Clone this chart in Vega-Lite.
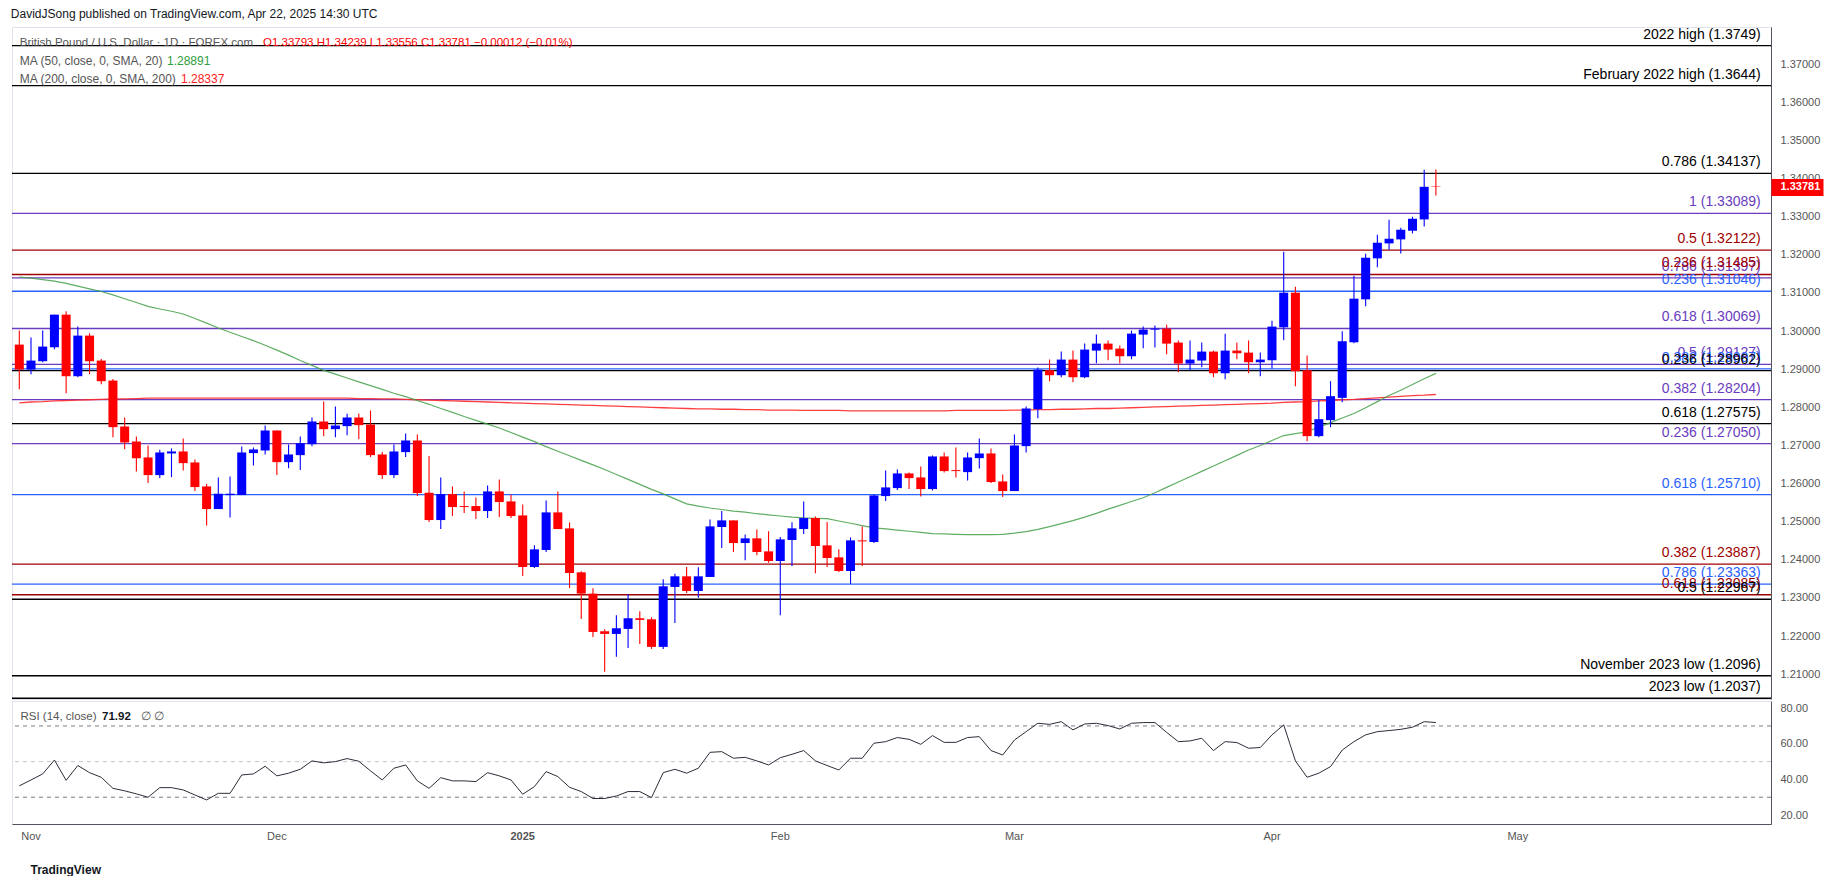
{
"$schema":"https://vega.github.io/schema/vega-lite/v6.json",
"background":"#ffffff",
"padding":{"left":10,"top":7,"right":0,"bottom":0},
"title":{"text":"DavidJSong published on TradingView.com, Apr 22, 2025 14:30 UTC","anchor":"start","font":"Liberation Sans","fontSize":12,"fontWeight":"normal","color":"#131722","offset":6},
"config":{"view":{"stroke":"#e0e3eb"},"font":"Liberation Sans","axis":{"labelOverlap":false}},
"resolve":{"scale":{"color":"independent"}},
"spacing":0,
"datasets":{
"bars":[
{"d":"2024-10-31","o":1.29646,"h":1.30013,"l":1.28476,"c":1.28991,"m50":1.3142,"m200":1.2812,"rsi":36.4},
{"d":"2024-11-01","o":1.28991,"h":1.2983,"l":1.28869,"c":1.29227,"m50":1.3139,"m200":1.2814,"rsi":39.7},
{"d":"2024-11-04","o":1.2921,"h":1.30013,"l":1.2918,"c":1.29594,"m50":1.3135,"m200":1.2815,"rsi":43.1},
{"d":"2024-11-05","o":1.29576,"h":1.30432,"l":1.29524,"c":1.30432,"m50":1.3131,"m200":1.2817,"rsi":50.9},
{"d":"2024-11-06","o":1.30432,"h":1.3052,"l":1.28371,"c":1.28817,"m50":1.3125,"m200":1.2818,"rsi":39.5},
{"d":"2024-11-07","o":1.28817,"h":1.30118,"l":1.2879,"c":1.29882,"m50":1.3118,"m200":1.2819,"rsi":47.8},
{"d":"2024-11-08","o":1.29882,"h":1.29943,"l":1.28869,"c":1.2921,"m50":1.3111,"m200":1.282,"rsi":43.8},
{"d":"2024-11-11","o":1.29227,"h":1.29271,"l":1.28607,"c":1.28686,"m50":1.3104,"m200":1.2821,"rsi":41.2},
{"d":"2024-11-12","o":1.28703,"h":1.28747,"l":1.27219,"c":1.27481,"m50":1.3095,"m200":1.2822,"rsi":35.0},
{"d":"2024-11-13","o":1.27498,"h":1.27734,"l":1.26904,"c":1.27079,"m50":1.3085,"m200":1.2822,"rsi":33.6},
{"d":"2024-11-14","o":1.27105,"h":1.27236,"l":1.26319,"c":1.26668,"m50":1.3075,"m200":1.2823,"rsi":31.9},
{"d":"2024-11-15","o":1.26686,"h":1.27,"l":1.26013,"c":1.26223,"m50":1.3065,"m200":1.2824,"rsi":30.0},
{"d":"2024-11-18","o":1.26223,"h":1.26887,"l":1.26144,"c":1.26817,"m50":1.3058,"m200":1.2824,"rsi":35.4},
{"d":"2024-11-19","o":1.26791,"h":1.26922,"l":1.2617,"c":1.26843,"m50":1.3052,"m200":1.2824,"rsi":35.4},
{"d":"2024-11-20","o":1.26843,"h":1.27184,"l":1.26345,"c":1.26537,"m50":1.3045,"m200":1.2824,"rsi":34.1},
{"d":"2024-11-21","o":1.26555,"h":1.26634,"l":1.25804,"c":1.25909,"m50":1.3033,"m200":1.2824,"rsi":31.3},
{"d":"2024-11-22","o":1.25926,"h":1.25987,"l":1.24904,"c":1.25332,"m50":1.3021,"m200":1.2824,"rsi":28.5},
{"d":"2024-11-25","o":1.25332,"h":1.26162,"l":1.25332,"c":1.25734,"m50":1.3008,"m200":1.2824,"rsi":32.2},
{"d":"2024-11-26","o":1.25699,"h":1.26188,"l":1.25114,"c":1.25734,"m50":1.2997,"m200":1.2824,"rsi":32.2},
{"d":"2024-11-27","o":1.25699,"h":1.26974,"l":1.25699,"c":1.26817,"m50":1.2986,"m200":1.2824,"rsi":42.5},
{"d":"2024-11-28","o":1.268,"h":1.26948,"l":1.26476,"c":1.26896,"m50":1.2975,"m200":1.2824,"rsi":43.1},
{"d":"2024-11-29","o":1.26869,"h":1.27524,"l":1.26764,"c":1.27393,"m50":1.2963,"m200":1.2824,"rsi":47.4},
{"d":"2024-12-02","o":1.27393,"h":1.27393,"l":1.26223,"c":1.26563,"m50":1.295,"m200":1.2824,"rsi":42.0},
{"d":"2024-12-03","o":1.26563,"h":1.27026,"l":1.26406,"c":1.26764,"m50":1.2937,"m200":1.2824,"rsi":43.5},
{"d":"2024-12-04","o":1.26747,"h":1.27236,"l":1.26354,"c":1.27061,"m50":1.2923,"m200":1.2824,"rsi":45.7},
{"d":"2024-12-05","o":1.27035,"h":1.27734,"l":1.26983,"c":1.27629,"m50":1.291,"m200":1.2824,"rsi":50.4},
{"d":"2024-12-06","o":1.27629,"h":1.28153,"l":1.27245,"c":1.27428,"m50":1.2897,"m200":1.2824,"rsi":49.3},
{"d":"2024-12-09","o":1.27428,"h":1.28022,"l":1.27219,"c":1.27524,"m50":1.2887,"m200":1.2824,"rsi":50.0},
{"d":"2024-12-10","o":1.27507,"h":1.2783,"l":1.27271,"c":1.27734,"m50":1.2877,"m200":1.2824,"rsi":51.7},
{"d":"2024-12-11","o":1.27734,"h":1.27839,"l":1.27166,"c":1.27533,"m50":1.2867,"m200":1.2823,"rsi":50.2},
{"d":"2024-12-12","o":1.2755,"h":1.27917,"l":1.26695,"c":1.26747,"m50":1.2857,"m200":1.2823,"rsi":44.8},
{"d":"2024-12-13","o":1.26764,"h":1.26826,"l":1.26118,"c":1.26223,"m50":1.2847,"m200":1.2822,"rsi":39.7},
{"d":"2024-12-16","o":1.26223,"h":1.27026,"l":1.26144,"c":1.26843,"m50":1.2837,"m200":1.2822,"rsi":46.3},
{"d":"2024-12-17","o":1.26826,"h":1.27314,"l":1.26695,"c":1.27131,"m50":1.2828,"m200":1.2821,"rsi":48.1},
{"d":"2024-12-18","o":1.27131,"h":1.27288,"l":1.25673,"c":1.25751,"m50":1.2818,"m200":1.282,"rsi":39.2},
{"d":"2024-12-19","o":1.2576,"h":1.26721,"l":1.24991,"c":1.25044,"m50":1.2808,"m200":1.2819,"rsi":35.0},
{"d":"2024-12-20","o":1.25044,"h":1.26162,"l":1.24808,"c":1.25725,"m50":1.2797,"m200":1.2818,"rsi":41.0},
{"d":"2024-12-23","o":1.25725,"h":1.25926,"l":1.25149,"c":1.25385,"m50":1.2787,"m200":1.2817,"rsi":39.2},
{"d":"2024-12-24","o":1.25411,"h":1.25795,"l":1.25228,"c":1.25385,"m50":1.2776,"m200":1.2816,"rsi":39.2},
{"d":"2024-12-26","o":1.25411,"h":1.25638,"l":1.2507,"c":1.2528,"m50":1.2766,"m200":1.2815,"rsi":38.8},
{"d":"2024-12-27","o":1.2528,"h":1.25952,"l":1.25096,"c":1.25795,"m50":1.2756,"m200":1.2814,"rsi":43.8},
{"d":"2024-12-30","o":1.25795,"h":1.26109,"l":1.25122,"c":1.25516,"m50":1.2746,"m200":1.2813,"rsi":42.0},
{"d":"2024-12-31","o":1.25533,"h":1.25716,"l":1.25096,"c":1.25149,"m50":1.2734,"m200":1.2812,"rsi":39.7},
{"d":"2025-01-02","o":1.25166,"h":1.25454,"l":1.23577,"c":1.23812,"m50":1.2722,"m200":1.2811,"rsi":31.7},
{"d":"2025-01-03","o":1.23812,"h":1.2438,"l":1.23786,"c":1.24275,"m50":1.271,"m200":1.281,"rsi":36.0},
{"d":"2025-01-06","o":1.24258,"h":1.25559,"l":1.24205,"c":1.25245,"m50":1.2697,"m200":1.2809,"rsi":44.4},
{"d":"2025-01-07","o":1.25245,"h":1.25795,"l":1.24808,"c":1.24808,"m50":1.2685,"m200":1.2808,"rsi":41.6},
{"d":"2025-01-08","o":1.24825,"h":1.24983,"l":1.23262,"c":1.23655,"m50":1.2673,"m200":1.2807,"rsi":35.6},
{"d":"2025-01-09","o":1.23673,"h":1.23699,"l":1.2245,"c":1.23114,"m50":1.2661,"m200":1.2806,"rsi":33.2},
{"d":"2025-01-10","o":1.23114,"h":1.23254,"l":1.21979,"c":1.22109,"m50":1.2649,"m200":1.2805,"rsi":29.3},
{"d":"2025-01-13","o":1.22127,"h":1.22179,"l":1.21062,"c":1.22057,"m50":1.2637,"m200":1.2804,"rsi":29.3},
{"d":"2025-01-14","o":1.22057,"h":1.22546,"l":1.21455,"c":1.22206,"m50":1.2624,"m200":1.2803,"rsi":30.7},
{"d":"2025-01-15","o":1.22188,"h":1.23105,"l":1.2169,"c":1.22468,"m50":1.2611,"m200":1.2802,"rsi":33.2},
{"d":"2025-01-16","o":1.22468,"h":1.22651,"l":1.21795,"c":1.22424,"m50":1.2598,"m200":1.2801,"rsi":33.2},
{"d":"2025-01-17","o":1.22441,"h":1.22494,"l":1.21664,"c":1.21717,"m50":1.2585,"m200":1.28,"rsi":29.8},
{"d":"2025-01-20","o":1.21717,"h":1.2349,"l":1.21664,"c":1.23306,"m50":1.2573,"m200":1.2799,"rsi":43.8},
{"d":"2025-01-21","o":1.23289,"h":1.23638,"l":1.22345,"c":1.23568,"m50":1.256,"m200":1.2798,"rsi":45.7},
{"d":"2025-01-22","o":1.23568,"h":1.23812,"l":1.23131,"c":1.23184,"m50":1.2547,"m200":1.2797,"rsi":43.5},
{"d":"2025-01-23","o":1.23184,"h":1.23804,"l":1.23009,"c":1.23568,"m50":1.2541,"m200":1.2796,"rsi":46.3},
{"d":"2025-01-24","o":1.23551,"h":1.25061,"l":1.23551,"c":1.24878,"m50":1.2536,"m200":1.2796,"rsi":55.2},
{"d":"2025-01-27","o":1.24861,"h":1.2528,"l":1.2431,"c":1.25035,"m50":1.2532,"m200":1.2795,"rsi":55.6},
{"d":"2025-01-28","o":1.25035,"h":1.25035,"l":1.24205,"c":1.24441,"m50":1.2528,"m200":1.2795,"rsi":51.9},
{"d":"2025-01-29","o":1.24441,"h":1.24668,"l":1.23987,"c":1.24564,"m50":1.2525,"m200":1.2794,"rsi":52.4},
{"d":"2025-01-30","o":1.24564,"h":1.24799,"l":1.24118,"c":1.24206,"m50":1.2521,"m200":1.2794,"rsi":50.4},
{"d":"2025-01-31","o":1.24223,"h":1.24747,"l":1.23926,"c":1.2397,"m50":1.2518,"m200":1.2793,"rsi":48.1},
{"d":"2025-02-03","o":1.2397,"h":1.24598,"l":1.22546,"c":1.24537,"m50":1.2515,"m200":1.2793,"rsi":52.2},
{"d":"2025-02-04","o":1.2452,"h":1.24983,"l":1.23839,"c":1.24826,"m50":1.2512,"m200":1.2793,"rsi":54.1},
{"d":"2025-02-05","o":1.24808,"h":1.25533,"l":1.24677,"c":1.25096,"m50":1.251,"m200":1.2792,"rsi":56.2},
{"d":"2025-02-06","o":1.25096,"h":1.2514,"l":1.23647,"c":1.24363,"m50":1.2509,"m200":1.2792,"rsi":50.4},
{"d":"2025-02-07","o":1.2438,"h":1.24991,"l":1.23812,"c":1.24048,"m50":1.2508,"m200":1.2792,"rsi":47.8},
{"d":"2025-02-10","o":1.24066,"h":1.24276,"l":1.23682,"c":1.23708,"m50":1.2502,"m200":1.2792,"rsi":45.3},
{"d":"2025-02-11","o":1.23708,"h":1.2459,"l":1.23367,"c":1.24511,"m50":1.2496,"m200":1.2791,"rsi":51.9},
{"d":"2025-02-12","o":1.24511,"h":1.24878,"l":1.23839,"c":1.24485,"m50":1.249,"m200":1.2791,"rsi":51.9},
{"d":"2025-02-13","o":1.24468,"h":1.25716,"l":1.24441,"c":1.2569,"m50":1.2484,"m200":1.2791,"rsi":60.3},
{"d":"2025-02-14","o":1.25673,"h":1.26345,"l":1.25542,"c":1.259,"m50":1.2481,"m200":1.2791,"rsi":61.2},
{"d":"2025-02-17","o":1.25882,"h":1.26371,"l":1.2583,"c":1.26267,"m50":1.2478,"m200":1.2791,"rsi":63.5},
{"d":"2025-02-18","o":1.26267,"h":1.26293,"l":1.25856,"c":1.26144,"m50":1.2475,"m200":1.2791,"rsi":62.5},
{"d":"2025-02-19","o":1.26162,"h":1.2645,"l":1.25664,"c":1.25856,"m50":1.2472,"m200":1.2791,"rsi":59.7},
{"d":"2025-02-20","o":1.25856,"h":1.26738,"l":1.25821,"c":1.26712,"m50":1.2469,"m200":1.2791,"rsi":64.6},
{"d":"2025-02-21","o":1.26712,"h":1.26817,"l":1.26293,"c":1.26328,"m50":1.2468,"m200":1.2791,"rsi":60.8},
{"d":"2025-02-24","o":1.26354,"h":1.26948,"l":1.26162,"c":1.26328,"m50":1.2467,"m200":1.2792,"rsi":60.8},
{"d":"2025-02-25","o":1.26301,"h":1.26817,"l":1.26083,"c":1.26686,"m50":1.2466,"m200":1.2792,"rsi":63.5},
{"d":"2025-02-26","o":1.26668,"h":1.27183,"l":1.26397,"c":1.2679,"m50":1.2466,"m200":1.2792,"rsi":64.0},
{"d":"2025-02-27","o":1.26791,"h":1.26922,"l":1.26013,"c":1.2604,"m50":1.2466,"m200":1.2792,"rsi":56.2},
{"d":"2025-02-28","o":1.26057,"h":1.2624,"l":1.25647,"c":1.25804,"m50":1.2467,"m200":1.2792,"rsi":53.7},
{"d":"2025-03-03","o":1.25804,"h":1.27288,"l":1.25804,"c":1.27,"m50":1.247,"m200":1.2793,"rsi":62.1},
{"d":"2025-03-04","o":1.26983,"h":1.28022,"l":1.26817,"c":1.2797,"m50":1.2474,"m200":1.2793,"rsi":66.8},
{"d":"2025-03-05","o":1.27952,"h":1.29044,"l":1.27716,"c":1.28991,"m50":1.248,"m200":1.2794,"rsi":71.5},
{"d":"2025-03-06","o":1.28974,"h":1.29253,"l":1.28686,"c":1.28843,"m50":1.2487,"m200":1.2794,"rsi":70.9},
{"d":"2025-03-07","o":1.28843,"h":1.29463,"l":1.2879,"c":1.29253,"m50":1.2495,"m200":1.2795,"rsi":72.4},
{"d":"2025-03-10","o":1.29253,"h":1.29489,"l":1.2866,"c":1.2879,"m50":1.2503,"m200":1.2795,"rsi":67.8},
{"d":"2025-03-11","o":1.2879,"h":1.29672,"l":1.28764,"c":1.29515,"m50":1.2512,"m200":1.2796,"rsi":71.1},
{"d":"2025-03-12","o":1.29489,"h":1.29908,"l":1.29157,"c":1.29672,"m50":1.2522,"m200":1.2797,"rsi":71.5},
{"d":"2025-03-13","o":1.29672,"h":1.29751,"l":1.29236,"c":1.29515,"m50":1.2533,"m200":1.2797,"rsi":70.2},
{"d":"2025-03-14","o":1.29541,"h":1.2962,"l":1.29149,"c":1.29341,"m50":1.2543,"m200":1.2798,"rsi":68.3},
{"d":"2025-03-17","o":1.29341,"h":1.30013,"l":1.29262,"c":1.29934,"m50":1.2553,"m200":1.2799,"rsi":71.5},
{"d":"2025-03-18","o":1.29908,"h":1.30118,"l":1.2955,"c":1.30039,"m50":1.2563,"m200":1.28,"rsi":71.9},
{"d":"2025-03-19","o":1.30039,"h":1.30144,"l":1.29568,"c":1.30065,"m50":1.2576,"m200":1.2801,"rsi":71.9},
{"d":"2025-03-20","o":1.30065,"h":1.3017,"l":1.29393,"c":1.29672,"m50":1.259,"m200":1.2802,"rsi":66.4},
{"d":"2025-03-21","o":1.29699,"h":1.29751,"l":1.28921,"c":1.29149,"m50":1.2604,"m200":1.2803,"rsi":61.2},
{"d":"2025-03-24","o":1.29149,"h":1.29751,"l":1.28974,"c":1.29253,"m50":1.2618,"m200":1.2804,"rsi":61.6},
{"d":"2025-03-25","o":1.29227,"h":1.29699,"l":1.29053,"c":1.29463,"m50":1.2632,"m200":1.2805,"rsi":63.1},
{"d":"2025-03-26","o":1.29463,"h":1.29489,"l":1.2879,"c":1.28895,"m50":1.2646,"m200":1.2806,"rsi":56.2},
{"d":"2025-03-27","o":1.28895,"h":1.29934,"l":1.28738,"c":1.29489,"m50":1.266,"m200":1.2807,"rsi":61.2},
{"d":"2025-03-28","o":1.29489,"h":1.29698,"l":1.29262,"c":1.29419,"m50":1.2674,"m200":1.2808,"rsi":60.7},
{"d":"2025-03-31","o":1.29436,"h":1.29751,"l":1.28895,"c":1.29183,"m50":1.2688,"m200":1.2809,"rsi":57.5},
{"d":"2025-04-01","o":1.29183,"h":1.29437,"l":1.28817,"c":1.29253,"m50":1.27,"m200":1.281,"rsi":57.9},
{"d":"2025-04-02","o":1.29236,"h":1.30275,"l":1.29018,"c":1.30118,"m50":1.2713,"m200":1.2811,"rsi":65.0},
{"d":"2025-04-03","o":1.301,"h":1.32083,"l":1.2976,"c":1.31008,"m50":1.2726,"m200":1.2813,"rsi":70.6},
{"d":"2025-04-04","o":1.31008,"h":1.31166,"l":1.28555,"c":1.28947,"m50":1.2731,"m200":1.2814,"rsi":50.4},
{"d":"2025-04-07","o":1.28974,"h":1.29358,"l":1.27114,"c":1.27245,"m50":1.2736,"m200":1.2815,"rsi":41.2},
{"d":"2025-04-08","o":1.27245,"h":1.28188,"l":1.27219,"c":1.2769,"m50":1.2748,"m200":1.2817,"rsi":43.5},
{"d":"2025-04-09","o":1.27664,"h":1.28686,"l":1.2748,"c":1.28293,"m50":1.276,"m200":1.2818,"rsi":47.2},
{"d":"2025-04-10","o":1.28249,"h":1.29995,"l":1.28135,"c":1.29734,"m50":1.2772,"m200":1.282,"rsi":56.5},
{"d":"2025-04-11","o":1.29707,"h":1.31454,"l":1.29681,"c":1.30851,"m50":1.2784,"m200":1.2821,"rsi":61.2},
{"d":"2025-04-14","o":1.30834,"h":1.3203,"l":1.30651,"c":1.31925,"m50":1.2799,"m200":1.2823,"rsi":65.0},
{"d":"2025-04-15","o":1.31908,"h":1.32528,"l":1.31672,"c":1.32318,"m50":1.2815,"m200":1.2825,"rsi":66.8},
{"d":"2025-04-16","o":1.32301,"h":1.32921,"l":1.32135,"c":1.32423,"m50":1.2831,"m200":1.2827,"rsi":67.4},
{"d":"2025-04-17","o":1.32406,"h":1.32711,"l":1.32039,"c":1.32659,"m50":1.2845,"m200":1.2829,"rsi":68.1},
{"d":"2025-04-18","o":1.32633,"h":1.33,"l":1.32563,"c":1.32947,"m50":1.286,"m200":1.2831,"rsi":69.3},
{"d":"2025-04-21","o":1.3293,"h":1.34231,"l":1.32746,"c":1.33785,"m50":1.2875,"m200":1.2832,"rsi":72.4},
{"d":"2025-04-22","o":1.33793,"h":1.34239,"l":1.33556,"c":1.33781,"m50":1.28891,"m200":1.28337,"rsi":71.92}
],
"levels":[
{"v":1.3749,"t":"2022 high (1.3749)","s":"key"},
{"v":1.3644,"t":"February 2022 high (1.3644)","s":"key"},
{"v":1.34137,"t":"0.786 (1.34137)","s":"key"},
{"v":1.33089,"t":"1 (1.33089)","s":"fibA"},
{"v":1.32122,"t":"0.5 (1.32122)","s":"fibC"},
{"v":1.31397,"t":"0.786 (1.31397)","s":"fibA"},
{"v":1.31485,"t":"0.236 (1.31485)","s":"fibC"},
{"v":1.31046,"t":"0.236 (1.31046)","s":"fibB"},
{"v":1.30069,"t":"0.618 (1.30069)","s":"fibA"},
{"v":1.29127,"t":"0.5 (1.29127)","s":"fibA"},
{"v":1.29007,"t":"0.382 (1.29007)","s":"fibB"},
{"v":1.28962,"t":"0.236 (1.28962)","s":"key"},
{"v":1.28204,"t":"0.382 (1.28204)","s":"fibA"},
{"v":1.27575,"t":"0.618 (1.27575)","s":"key"},
{"v":1.2705,"t":"0.236 (1.27050)","s":"fibA"},
{"v":1.2571,"t":"0.618 (1.25710)","s":"fibB"},
{"v":1.23887,"t":"0.382 (1.23887)","s":"fibC"},
{"v":1.23363,"t":"0.786 (1.23363)","s":"fibB"},
{"v":1.23085,"t":"0.618 (1.23085)","s":"fibC"},
{"v":1.22967,"t":"0.5 (1.22967)","s":"key"},
{"v":1.2096,"t":"November 2023 low (1.2096)","s":"key"},
{"v":1.2037,"t":"2023 low (1.2037)","s":"key"}
]
},
"vconcat":[
{
"width":1759,"height":672,
"resolve":{"axis":{"y":"independent"}},
"layer":[
{"layer":[
{"data":{"name":"levels"},"mark":{"type":"rule","strokeWidth":1.3},
 "encoding":{
  "y":{"field":"v","type":"quantitative","scale":{"domain":[1.2035,1.37977],"nice":false,"zero":false},
   "axis":{"orient":"right","title":null,"values":[1.21,1.22,1.23,1.24,1.25,1.26,1.27,1.28,1.29,1.3,1.31,1.32,1.33,1.34,1.35,1.36,1.37],"format":".5f","grid":false,"domain":true,"domainColor":"#50535e","ticks":false,"tickSize":0,"labelPadding":9,
    "labelColor":"#555555","labelFontSize":11,"labelFont":"Liberation Sans","labelOverlap":false,"labelBound":false,"labelFlush":false,"labelAlign":"left","labelBaseline":"middle"}},
  "color":{"field":"s","type":"nominal","scale":{"domain":["key","fibA","fibB","fibC"],"range":["#000000","#6a3cc0","#2962ff","#a00000"]},"legend":null}}},
{"data":{"name":"bars"},"mark":{"type":"line","color":"#ff2a2a","strokeWidth":1.3,"opacity":0.9},
 "encoding":{"x":{"field":"d","type":"ordinal","bandPosition":0.5,"axis":null},"y":{"field":"m200","type":"quantitative"}}},
{"data":{"name":"bars"},"mark":{"type":"line","color":"#43a047","strokeWidth":1.2,"opacity":0.85},
 "encoding":{"x":{"field":"d","type":"ordinal","bandPosition":0.5,"axis":null},"y":{"field":"m50","type":"quantitative"}}},
{"data":{"name":"bars"},"mark":{"type":"rule","strokeWidth":1.1},
 "encoding":{"x":{"field":"d","type":"ordinal","bandPosition":0.5,"axis":null},"y":{"field":"l","type":"quantitative"},"y2":{"field":"h"},
  "color":{"condition":{"test":"datum.c >= datum.o","value":"#0000ff"},"value":"#ff0000"}}},
{"data":{"name":"bars"},"mark":{"type":"bar","width":{"band":0.77}},
 "encoding":{"x":{"field":"d","type":"ordinal","axis":null,"scale":{"type":"band","paddingInner":0,"paddingOuter":0.123,"domain":["2024-10-31","2024-11-01","2024-11-04","2024-11-05","2024-11-06","2024-11-07","2024-11-08","2024-11-11","2024-11-12","2024-11-13","2024-11-14","2024-11-15","2024-11-18","2024-11-19","2024-11-20","2024-11-21","2024-11-22","2024-11-25","2024-11-26","2024-11-27","2024-11-28","2024-11-29","2024-12-02","2024-12-03","2024-12-04","2024-12-05","2024-12-06","2024-12-09","2024-12-10","2024-12-11","2024-12-12","2024-12-13","2024-12-16","2024-12-17","2024-12-18","2024-12-19","2024-12-20","2024-12-23","2024-12-24","2024-12-26","2024-12-27","2024-12-30","2024-12-31","2025-01-02","2025-01-03","2025-01-06","2025-01-07","2025-01-08","2025-01-09","2025-01-10","2025-01-13","2025-01-14","2025-01-15","2025-01-16","2025-01-17","2025-01-20","2025-01-21","2025-01-22","2025-01-23","2025-01-24","2025-01-27","2025-01-28","2025-01-29","2025-01-30","2025-01-31","2025-02-03","2025-02-04","2025-02-05","2025-02-06","2025-02-07","2025-02-10","2025-02-11","2025-02-12","2025-02-13","2025-02-14","2025-02-17","2025-02-18","2025-02-19","2025-02-20","2025-02-21","2025-02-24","2025-02-25","2025-02-26","2025-02-27","2025-02-28","2025-03-03","2025-03-04","2025-03-05","2025-03-06","2025-03-07","2025-03-10","2025-03-11","2025-03-12","2025-03-13","2025-03-14","2025-03-17","2025-03-18","2025-03-19","2025-03-20","2025-03-21","2025-03-24","2025-03-25","2025-03-26","2025-03-27","2025-03-28","2025-03-31","2025-04-01","2025-04-02","2025-04-03","2025-04-04","2025-04-07","2025-04-08","2025-04-09","2025-04-10","2025-04-11","2025-04-14","2025-04-15","2025-04-16","2025-04-17","2025-04-18","2025-04-21","2025-04-22","2025-04-23","2025-04-24","2025-04-25","2025-04-28","2025-04-29","2025-04-30","2025-05-01","2025-05-02","2025-05-05","2025-05-06","2025-05-07","2025-05-08","2025-05-09","2025-05-12","2025-05-13","2025-05-14","2025-05-15","2025-05-16","2025-05-19","2025-05-20","2025-05-21","2025-05-22","2025-05-23","2025-05-26","2025-05-27","2025-05-28","2025-05-29","2025-05-30"]}},
  "y":{"field":"o","type":"quantitative"},"y2":{"field":"c"},
  "color":{"condition":{"test":"datum.c >= datum.o","value":"#0000ff"},"value":"#ff0000"}}},
{"data":{"name":"levels"},"mark":{"type":"text","align":"right","baseline":"bottom","dx":-3,"dy":-4,"font":"Liberation Sans","fontSize":14},
 "encoding":{"x":{"datum":"2025-05-30","type":"ordinal","bandPosition":0.5,"axis":null},"y":{"field":"v","type":"quantitative"},"text":{"field":"t"},"color":{"field":"s","type":"nominal","legend":null}}},
{"data":{"values":[{"t":"British Pound / U.S. Dollar · 1D · FOREX.com"}]},"mark":{"type":"text","align":"left","baseline":"middle","dx":0.5,"font":"Liberation Sans","fontSize":11.5,"color":"#555555"},
 "encoding":{"x":{"datum":"2024-10-31","type":"ordinal","bandPosition":0.5,"axis":null},"y":{"datum":1.37566,"type":"quantitative"},"text":{"field":"t"}}},
{"data":{"values":[{"t":"O1.33793  H1.34239  L1.33556  C1.33781  −0.00012 (−0.01%)"}]},"mark":{"type":"text","align":"left","baseline":"middle","dx":243.7,"font":"Liberation Sans","fontSize":11.5,"color":"#ff0000"},
 "encoding":{"x":{"datum":"2024-10-31","type":"ordinal","bandPosition":0.5,"axis":null},"y":{"datum":1.37566,"type":"quantitative"},"text":{"field":"t"}}},
{"data":{"values":[{"t":"MA (50, close, 0, SMA, 20)"}]},"mark":{"type":"text","align":"left","baseline":"middle","dx":0.5,"font":"Liberation Sans","fontSize":12,"color":"#555555"},
 "encoding":{"x":{"datum":"2024-10-31","type":"ordinal","bandPosition":0.5,"axis":null},"y":{"datum":1.37086,"type":"quantitative"},"text":{"field":"t"}}},
{"data":{"values":[{"t":"1.28891"}]},"mark":{"type":"text","align":"left","baseline":"middle","dx":147.7,"font":"Liberation Sans","fontSize":12,"color":"#2e9e3e"},
 "encoding":{"x":{"datum":"2024-10-31","type":"ordinal","bandPosition":0.5,"axis":null},"y":{"datum":1.37086,"type":"quantitative"},"text":{"field":"t"}}},
{"data":{"values":[{"t":"MA (200, close, 0, SMA, 200)"}]},"mark":{"type":"text","align":"left","baseline":"middle","dx":0.5,"font":"Liberation Sans","fontSize":12,"color":"#555555"},
 "encoding":{"x":{"datum":"2024-10-31","type":"ordinal","bandPosition":0.5,"axis":null},"y":{"datum":1.36615,"type":"quantitative"},"text":{"field":"t"}}},
{"data":{"values":[{"t":"1.28337"}]},"mark":{"type":"text","align":"left","baseline":"middle","dx":161.7,"font":"Liberation Sans","fontSize":12,"color":"#ff2020"},
 "encoding":{"x":{"datum":"2024-10-31","type":"ordinal","bandPosition":0.5,"axis":null},"y":{"datum":1.36615,"type":"quantitative"},"text":{"field":"t"}}}
]},
{"data":{"values":[{"p":1.33781}]},"mark":{"type":"point","opacity":0},
 "encoding":{"y":{"field":"p","type":"quantitative",
   "axis":{"orient":"right","title":null,"values":[1.33781],"format":".5f","grid":false,"domain":false,"ticks":true,"tickSize":52,"tickWidth":17,"tickColor":"#ff0000","labelPadding":-43,"labelColor":"#ffffff","labelFontWeight":"bold","labelFontSize":11,"labelFont":"Liberation Sans","labelAlign":"left","labelBaseline":"middle","labelOverlap":false,"labelBound":false,"labelFlush":false}}}}
]
},
{
"width":1759,"height":123,
"layer":[
{"data":{"values":[{"v":70,"k":"o"},{"v":50,"k":"m"},{"v":30,"k":"o"}]},"mark":{"type":"rule","strokeDash":[4,4],"strokeWidth":1},
 "encoding":{"y":{"field":"v","type":"quantitative","scale":{"domain":[15,84],"nice":false,"zero":false},
   "axis":{"orient":"right","title":null,"values":[20,40,60,80],"format":".2f","grid":false,"domainColor":"#50535e","ticks":false,"tickSize":0,"labelPadding":9,"labelColor":"#555555","labelFontSize":11,"labelFont":"Liberation Sans","labelOverlap":false,"labelBound":false,"labelFlush":false,"labelAlign":"left"}},
  "color":{"field":"k","type":"nominal","scale":{"domain":["o","m"],"range":["#787b86","#c3c6ce"]},"legend":null}}},
{"data":{"name":"bars"},"mark":{"type":"line","color":"#2a2e39","strokeWidth":1},
 "encoding":{"x":{"field":"d","type":"ordinal","bandPosition":0.5,
   "scale":{"type":"band","paddingInner":0,"paddingOuter":0.123,"domain":["2024-10-31","2024-11-01","2024-11-04","2024-11-05","2024-11-06","2024-11-07","2024-11-08","2024-11-11","2024-11-12","2024-11-13","2024-11-14","2024-11-15","2024-11-18","2024-11-19","2024-11-20","2024-11-21","2024-11-22","2024-11-25","2024-11-26","2024-11-27","2024-11-28","2024-11-29","2024-12-02","2024-12-03","2024-12-04","2024-12-05","2024-12-06","2024-12-09","2024-12-10","2024-12-11","2024-12-12","2024-12-13","2024-12-16","2024-12-17","2024-12-18","2024-12-19","2024-12-20","2024-12-23","2024-12-24","2024-12-26","2024-12-27","2024-12-30","2024-12-31","2025-01-02","2025-01-03","2025-01-06","2025-01-07","2025-01-08","2025-01-09","2025-01-10","2025-01-13","2025-01-14","2025-01-15","2025-01-16","2025-01-17","2025-01-20","2025-01-21","2025-01-22","2025-01-23","2025-01-24","2025-01-27","2025-01-28","2025-01-29","2025-01-30","2025-01-31","2025-02-03","2025-02-04","2025-02-05","2025-02-06","2025-02-07","2025-02-10","2025-02-11","2025-02-12","2025-02-13","2025-02-14","2025-02-17","2025-02-18","2025-02-19","2025-02-20","2025-02-21","2025-02-24","2025-02-25","2025-02-26","2025-02-27","2025-02-28","2025-03-03","2025-03-04","2025-03-05","2025-03-06","2025-03-07","2025-03-10","2025-03-11","2025-03-12","2025-03-13","2025-03-14","2025-03-17","2025-03-18","2025-03-19","2025-03-20","2025-03-21","2025-03-24","2025-03-25","2025-03-26","2025-03-27","2025-03-28","2025-03-31","2025-04-01","2025-04-02","2025-04-03","2025-04-04","2025-04-07","2025-04-08","2025-04-09","2025-04-10","2025-04-11","2025-04-14","2025-04-15","2025-04-16","2025-04-17","2025-04-18","2025-04-21","2025-04-22","2025-04-23","2025-04-24","2025-04-25","2025-04-28","2025-04-29","2025-04-30","2025-05-01","2025-05-02","2025-05-05","2025-05-06","2025-05-07","2025-05-08","2025-05-09","2025-05-12","2025-05-13","2025-05-14","2025-05-15","2025-05-16","2025-05-19","2025-05-20","2025-05-21","2025-05-22","2025-05-23","2025-05-26","2025-05-27","2025-05-28","2025-05-29","2025-05-30"]},
   "axis":{"orient":"bottom","title":"TradingView","titleAnchor":"start","titleAlign":"left","titleX":18,"titleY":45,"titleBaseline":"middle","titleFont":"Liberation Sans","titleFontSize":12,"titleFontWeight":"bold","titleColor":"#131722",
    "values":["2024-11-01","2024-12-02","2025-01-02","2025-02-03","2025-03-03","2025-04-02","2025-05-01"],
    "labelExpr":"datum.value == '2024-11-01' ? 'Nov' : datum.value == '2024-12-02' ? 'Dec' : datum.value == '2025-01-02' ? '2025' : datum.value == '2025-02-03' ? 'Feb' : datum.value == '2025-03-03' ? 'Mar' : datum.value == '2025-04-02' ? 'Apr' : 'May'",
    "labelFont":"Liberation Sans","labelFontSize":11,"labelColor":"#555555",
    "labelFontWeight":{"condition":{"test":"datum.value == '2025-01-02'","value":"bold"},"value":"normal"},
    "ticks":false,"tickSize":0,"labelPadding":6,"domainColor":"#50535e","labelOverlap":false,"labelAngle":0,"grid":false}},
  "y":{"field":"rsi","type":"quantitative"}}},
{"data":{"values":[{"t":"RSI (14, close)"}]},"mark":{"type":"text","align":"left","baseline":"middle","dx":1.2,"font":"Liberation Sans","fontSize":11.5,"color":"#555555"},
 "encoding":{"x":{"datum":"2024-10-31","type":"ordinal","bandPosition":0.5},"y":{"datum":74.8,"type":"quantitative"},"text":{"field":"t"}}},
{"data":{"values":[{"t":"71.92"}]},"mark":{"type":"text","align":"left","baseline":"middle","dx":82.7,"font":"Liberation Sans","fontSize":11.5,"fontWeight":"bold","color":"#131722"},
 "encoding":{"x":{"datum":"2024-10-31","type":"ordinal","bandPosition":0.5},"y":{"datum":74.8,"type":"quantitative"},"text":{"field":"t"}}},
{"data":{"values":[{"t":"∅  ∅"}]},"mark":{"type":"text","align":"left","baseline":"middle","dx":121.7,"font":"Liberation Sans","fontSize":11.5,"color":"#555555"},
 "encoding":{"x":{"datum":"2024-10-31","type":"ordinal","bandPosition":0.5},"y":{"datum":74.8,"type":"quantitative"},"text":{"field":"t"}}}
]
}
]
}
